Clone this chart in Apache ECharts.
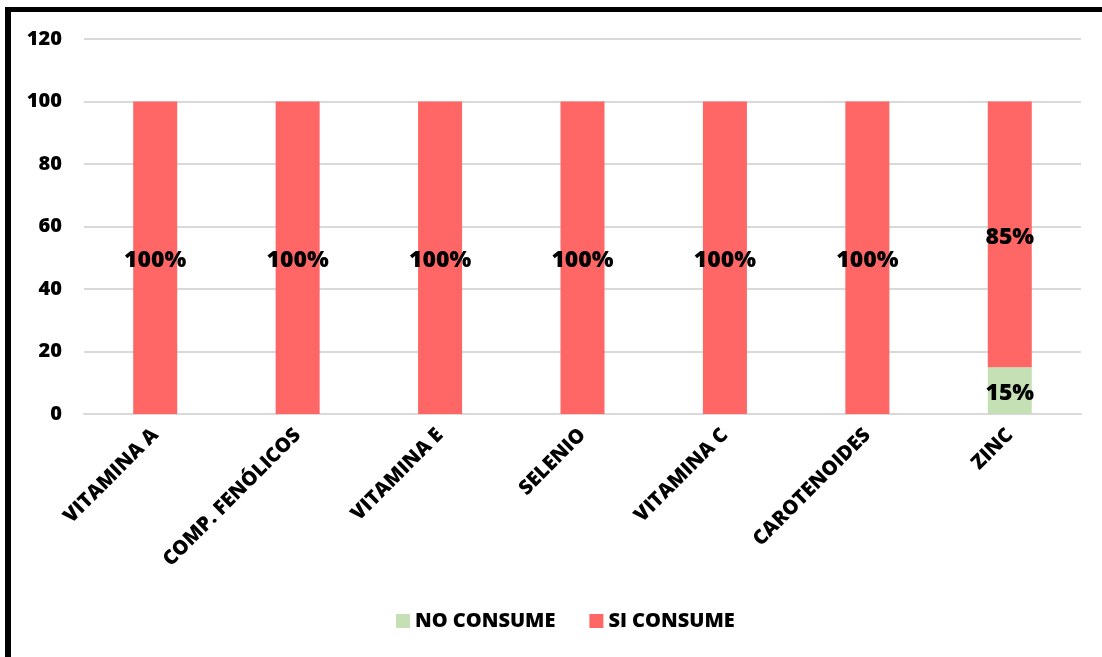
<!DOCTYPE html>
<html>
<head>
<meta charset="utf-8">
<script src="https://cdn.jsdelivr.net/npm/echarts@6/dist/echarts.min.js"></script>
<style>
  html, body { margin: 0; padding: 0; background: #fff; }
  #chart { width: 1102px; height: 657px; position: absolute; left: 0; top: 0; }
  #frame { position: absolute; left: 5px; top: 7px; right: 0; bottom: 0;
           border-left: 6px solid #000; border-top: 5px solid #000; pointer-events: none; }
</style>
</head>
<body>
<div id="chart"></div>
<div id="frame"></div>
<script>
const categories = ['VITAMINA A', 'COMP. FENÓLICOS', 'VITAMINA E', 'SELENIO', 'VITAMINA C', 'CAROTENOIDES', 'ZINC'];
const noConsume = [0, 0, 0, 0, 0, 0, 15];
const siConsume = [100, 100, 100, 100, 100, 100, 85];
const seriesNames = ['NO CONSUME', 'SI CONSUME'];

const FONT = '"Open Sans", "Noto Sans", sans-serif';
const WEIGHT = 800;

const chart = echarts.init(document.getElementById('chart'), null, { renderer: 'canvas' });

const barLabel = {
  show: true,
  position: 'inside',
  offset: [0, 3],
  fontFamily: FONT,
  fontWeight: WEIGHT,
  fontSize: 23,
  color: '#000',
  formatter: p => (p.value > 0 ? p.value + '%' : '')
};

chart.setOption({
  animation: false,
  backgroundColor: '#fff',
  grid: { left: 84, right: 21, top: 39, bottom: 243, containLabel: false },
  legend: {
    bottom: 21,
    left: 391,
    itemWidth: 14,
    itemHeight: 14,
    itemGap: 34,
    icon: 'rect',
    textStyle: { fontFamily: FONT, fontWeight: WEIGHT, fontSize: 20, color: '#000' },
    data: seriesNames
  },
  xAxis: {
    type: 'category',
    data: categories,
    axisLine: { lineStyle: { color: '#d9d9d9', width: 2 } },
    axisTick: { show: false },
    axisLabel: {
      rotate: 45,
      interval: 0,
      margin: 18,
      fontFamily: FONT,
      fontWeight: WEIGHT,
      fontSize: 20,
      color: '#000'
    }
  },
  yAxis: {
    type: 'value',
    min: 0,
    max: 120,
    interval: 20,
    axisLine: { show: false },
    axisTick: { show: false },
    splitLine: { lineStyle: { color: '#d9d9d9', width: 2 } },
    axisLabel: {
      margin: 22,
      fontFamily: FONT,
      fontWeight: WEIGHT,
      fontSize: 20,
      color: '#000'
    }
  },
  series: [
    {
      name: seriesNames[0],
      type: 'bar',
      stack: 'total',
      data: noConsume,
      barWidth: 44,
      itemStyle: { color: '#c5e0b4' },
      label: barLabel
    },
    {
      name: seriesNames[1],
      type: 'bar',
      stack: 'total',
      data: siConsume,
      barWidth: 44,
      itemStyle: { color: '#ff6666' },
      label: barLabel
    }
  ]
});
</script>
</body>
</html>
